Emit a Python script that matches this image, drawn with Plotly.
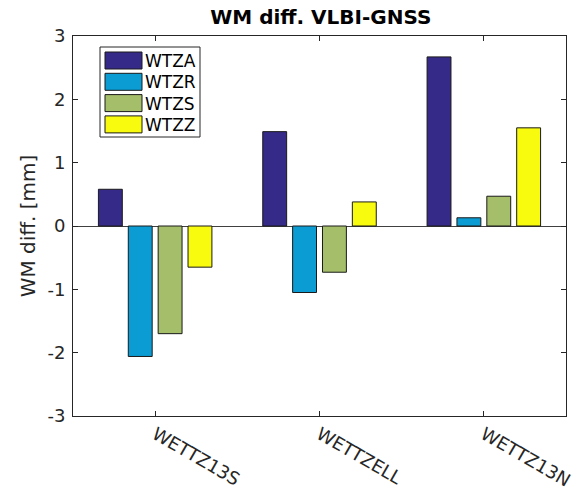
import plotly.graph_objects as go

stations = ["WETTZ13S", "WETTZELL", "WETTZ13N"]
series_names = ["WTZA", "WTZR", "WTZS", "WTZZ"]
wtza = [0.58, 1.49, 2.67]
wtzr = [-2.06, -1.05, 0.13]
wtzs = [-1.70, -0.73, 0.47]
wtzz = [-0.65, 0.38, 1.55]
colors = ["#352A87", "#0A9CD2", "#A5BE6A", "#F9FB0E"]
ytick_vals = [-3, -2, -1, 0, 1, 2, 3]
ytick_text = ["-3", "-2", "-1", "0", "1", "2", "3"]

xpos = [1, 2, 3]
fig = go.Figure()
for name, vals, col in zip(series_names, [wtza, wtzr, wtzs, wtzz], colors):
    fig.add_trace(go.Bar(x=xpos, y=vals, name=name, showlegend=False,
                         marker=dict(color=col, line=dict(color="#1a1a1a", width=1))))

# custom MATLAB-style legend (paper coordinates of the plot area)
L, R, T, B = 73, 566, 36, 416
def px(x):
    return (x - L) / (R - L)
def py(y):
    return (B - y) / (B - T)

shapes = [dict(type="rect", xref="paper", yref="paper",
               x0=px(100), x1=px(200), y0=py(137), y1=py(47),
               line=dict(color="#262626", width=1), fillcolor="white", layer="above")]
annotations = []
for i, (name, col) in enumerate(zip(series_names, colors)):
    top = 52 + 21.3 * i
    shapes.append(dict(type="rect", xref="paper", yref="paper",
                       x0=px(105), x1=px(142), y0=py(top + 17), y1=py(top),
                       line=dict(color="#1a1a1a", width=1), fillcolor=col, layer="above"))
    annotations.append(dict(xref="paper", yref="paper", x=px(143), y=py(top + 9),
                            xanchor="left", yanchor="middle", text=name, showarrow=False,
                            font=dict(size=17, color="#000000")))

font = "DejaVu Sans"
fig.update_layout(
    width=578, height=494,
    margin=dict(l=L, r=578 - R, t=T, b=494 - B),
    paper_bgcolor="white", plot_bgcolor="white",
    barmode="group", bargap=0.273, bargroupgap=0.2,
    font=dict(family=font, size=18, color="#262626"),
    title=dict(text="<b>WM diff. VLBI-GNSS</b>", x=0.555, xanchor="center",
               y=1 - 17 / 494, yanchor="middle", font=dict(size=20, color="#000000")),
    shapes=shapes, annotations=annotations,
    showlegend=False,
)
fig.update_xaxes(range=[0.5, 3.5], tickmode="array", tickvals=xpos, ticktext=stations,
                 tickangle=30, ticks="inside", ticklen=5, tickcolor="#262626",
                 showline=True, linecolor="#262626", linewidth=1, mirror="ticks",
                 showgrid=False, zeroline=False, tickfont=dict(size=18), automargin=False)
fig.update_yaxes(range=[-3, 3], tickmode="array", tickvals=ytick_vals, ticktext=ytick_text,
                 ticks="inside", ticklen=5, tickcolor="#262626",
                 showline=True, linecolor="#262626", linewidth=1, mirror="ticks",
                 showgrid=False, zeroline=True, zerolinecolor="#404040", zerolinewidth=1,
                 ticklabelstandoff=3, automargin=False,
                 title=dict(text="WM diff. [mm]", font=dict(size=20), standoff=6),
                 tickfont=dict(size=18))
fig.write_html("out.html")
